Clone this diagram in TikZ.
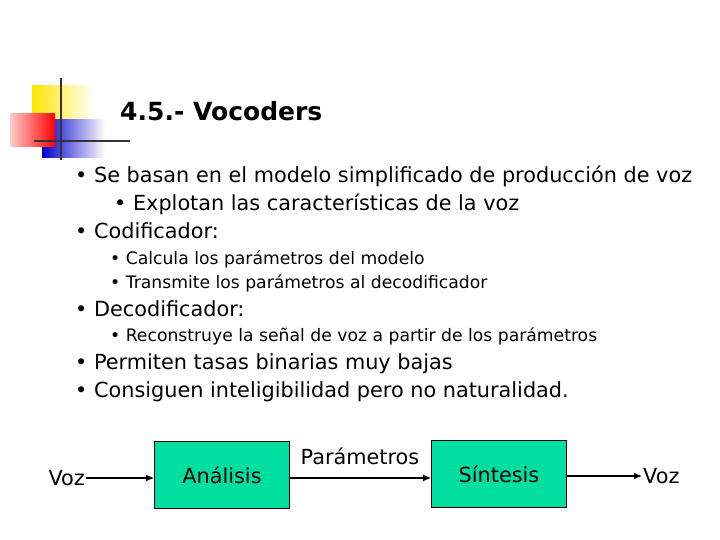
\documentclass[tikz,border=0pt]{standalone}
\usepackage{fontspec}
\setmainfont{DejaVu Sans}
\usetikzlibrary{arrows.meta}
\definecolor{boxg}{HTML}{00DFA0}
\begin{document}
\begin{tikzpicture}[x=1pt,y=-1pt,
  txt/.style={anchor=base west,inner sep=0pt,font=\fontsize{20.8}{22}\selectfont},
  sml/.style={anchor=base west,inner sep=0pt,font=\fontsize{17.2}{18}\selectfont},
  blk/.style={draw,thick,fill=boxg,minimum width=135pt,minimum height=67pt,font=\fontsize{20.8}{22}\selectfont},
  arr/.style={-{Latex[length=8pt,width=7pt]},line width=1.4pt}]
\useasboundingbox (0,0) rectangle (720,540);
% logo
\shade[left color=yellow!80!orange,right color=white] (32,86) rectangle (95,132);
\shade[left color=blue!80!black,right color=white] (42,120) rectangle (105,158);
\shade[left color=red!20,right color=red] (10,114) rectangle (55,147);
\draw[line width=1.5pt,black!80] (61,78) -- (61,160);
\draw[line width=1.5pt,black!80] (34,141) -- (130,141);
\node[anchor=base west,inner sep=0pt,font=\bfseries\fontsize{25}{27}\selectfont] (t) at (120,121) {4.5.- Vocoders};
\node[txt] (l1) at (75,183) {• Se basan en el modelo simplificado de producción de voz};
\node[txt] (l2) at (114,211) {• Explotan las características de la voz};
\node[txt] (l3) at (75,239) {• Codificador:};
\node[sml] (l4) at (110,264) {• Calcula los parámetros del modelo};
\node[sml] (l5) at (110,288) {• Transmite los parámetros al decodificador};
\node[txt] (l6) at (75,316) {• Decodificador:};
\node[sml] (l7) at (110,341) {• Reconstruye la señal de voz a partir de los parámetros};
\node[txt] (l8) at (75,369) {• Permiten tasas binarias muy bajas};
\node[txt] (l9) at (75,397) {• Consiguen inteligibilidad pero no naturalidad.};
% diagram
\node[anchor=east,inner sep=1pt,font=\fontsize{20.8}{22}\selectfont] (vin) at (86,478) {Voz};
\node[blk] (an) at (222,475) {Análisis};
\node[blk] (si) at (499,474) {Síntesis};
\node[anchor=west,inner sep=1pt,font=\fontsize{20.8}{22}\selectfont] (vout) at (642,476) {Voz};
\node[font=\fontsize{20.8}{22}\selectfont] (par) at (360,456) {Parámetros};
\draw[arr] (vin.east) -- (an.west |- vin.east);
\draw[arr] (an.east |- 0,478) -- (si.west |- 0,478);
\draw[arr] (si.east |- 0,476) -- (vout.west);
\end{tikzpicture}
\end{document}
